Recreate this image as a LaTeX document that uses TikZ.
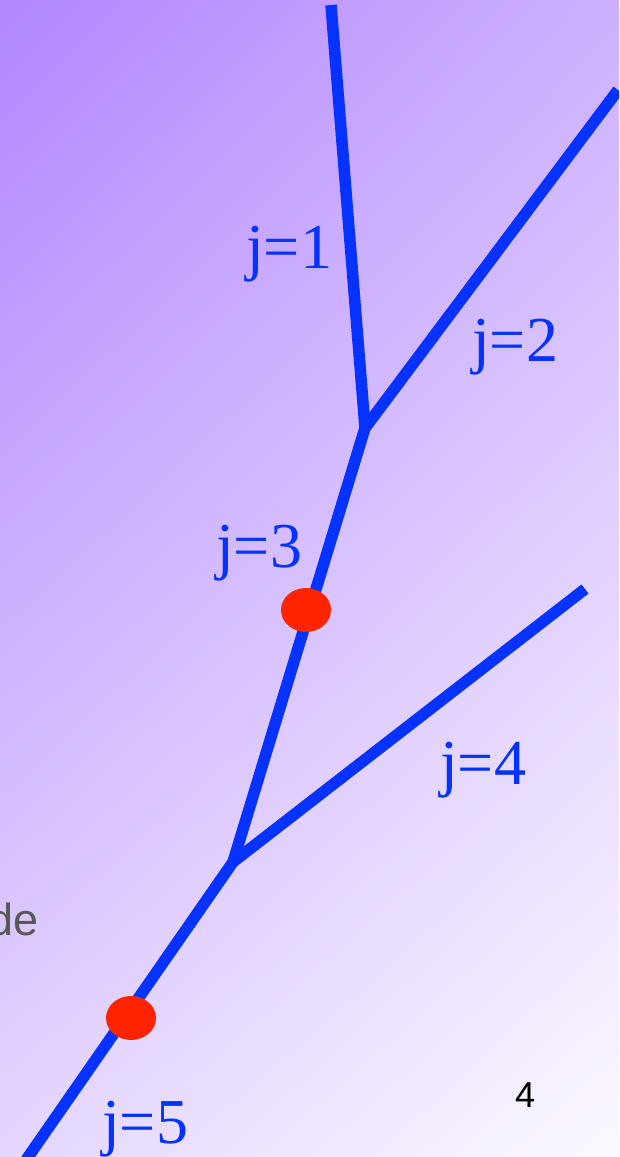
\documentclass[tikz,border=0pt]{standalone}
\usepackage{fontspec}
\setmainfont{Liberation Serif}
\newfontfamily\slidesans{Liberation Sans}
\usetikzlibrary{shapes.geometric,shadings}
\definecolor{branchblue}{RGB}{5,50,255}
\definecolor{dotred}{RGB}{255,36,0}
\definecolor{slidegray}{RGB}{88,88,88}
\definecolor{bgUL}{RGB}{178,134,255}
\definecolor{bgUR}{RGB}{204,176,255}
\definecolor{bgLL}{RGB}{228,214,255}
\definecolor{bgLR}{RGB}{252,249,255}

\begin{document}
\begin{tikzpicture}[x=1pt,y=-1pt,
  branch/.style={draw=branchblue, line width=11.5pt, line join=round},
  jlabel/.style={anchor=base west, inner sep=0pt, text=branchblue,
    font=\fontsize{64}{64}\selectfont},
  reddot/.style={ellipse, fill=dotred, minimum width=50pt, minimum height=44pt, inner sep=0pt}]

% Background
\useasboundingbox (0,0) rectangle (619,1157);
\clip (0,0) rectangle (619,1157);
\shade[upper left=bgUL, upper right=bgUR, lower left=bgLL, lower right=bgLR]
  (0,0) rectangle (619,1157);

% Branch points
\coordinate (top) at (331,5);
\coordinate (topright) at (618,90);
\coordinate (upper) at (365,428);
\coordinate (lower) at (233,862);
\coordinate (right) at (585,589);
\coordinate (bottom) at (26,1160);

% Branches
\draw[branch] (top) -- (upper) -- (topright);
\draw[branch] (upper) -- (lower);
\draw[branch] (right) -- (lower) -- (bottom);

% Marked points
\node[reddot] (dotA) at (306,610) {};
\node[reddot] (dotB) at (131,1018) {};

% Labels
\node[jlabel] (j1) at (246,268) {j=1};
\node[jlabel] (j2) at (472,361) {j=2};
\node[jlabel] (j3) at (216,567) {j=3};
\node[jlabel] (j4) at (440,784) {j=4};
\node[jlabel] (j5) at (102,1143) {j=5};

% Slide remnants
\node[anchor=base west, inner sep=0pt, text=slidegray,
  font=\slidesans\fontsize{45}{45}\selectfont] (cut) at (-12,935) {de};
\node[anchor=base west, inner sep=0pt,
  font=\slidesans\fontsize{36}{36}\selectfont] (page) at (515,1107) {4};

\end{tikzpicture}
\end{document}
